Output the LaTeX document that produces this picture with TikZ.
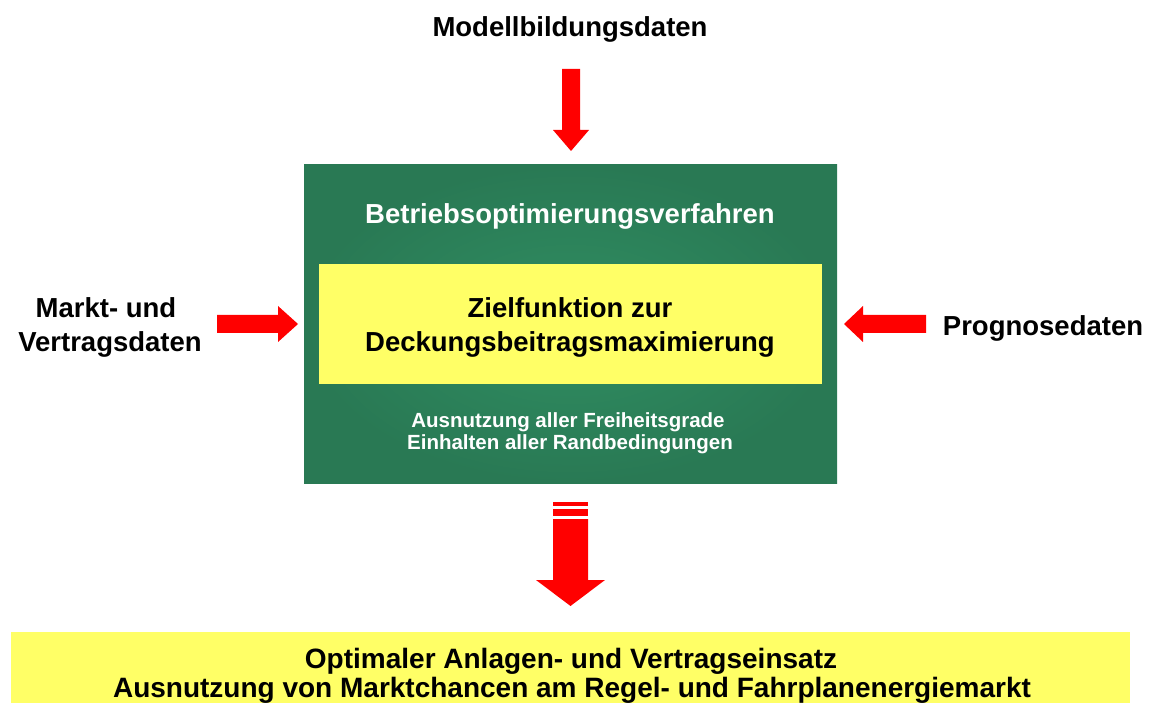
\documentclass[tikz,border=0pt]{standalone}
\usepackage{fontspec}
\setmainfont{Liberation Sans}
\definecolor{boxgreen}{RGB}{41,121,84}
\definecolor{boxglow}{RGB}{48,142,98}
\definecolor{paleyellow}{RGB}{255,255,102}
\definecolor{arrowred}{RGB}{255,0,0}
\tikzset{
  big/.style={font=\bfseries\fontsize{27.5}{34}\selectfont},
  bigger/.style={font=\bfseries\fontsize{28}{34}\selectfont},
  small/.style={font=\bfseries\fontsize{20.5}{24}\selectfont},
  label/.style={big, text=black, anchor=base, inner sep=0pt},
  whitetext/.style={text=white, anchor=base, inner sep=0pt},
  blockarrow/.style={fill=arrowred, draw=none},
}
\begin{document}
\begin{tikzpicture}[x=1pt, y=-1pt]
  \useasboundingbox (0,0) rectangle (1149,703);

  % central process box with soft glow
  \fill[boxgreen] (304,165) rectangle (837,483);
  \shade[inner color=boxglow, outer color=boxgreen] (304,165) rectangle (837,483);
  \node[big, whitetext] (title) at (570,224) {Betriebsoptimierungsverfahren};

  % objective function box
  \fill[paleyellow] (319,264) rectangle (822,384);
  \node[label] (goal1) at (570,318) {Zielfunktion zur};
  \node[label] (goal2) at (570,352) {Deckungsbeitragsmaximierung};

  \node[small, whitetext] (note1) at (568,427) {Ausnutzung aller Freiheitsgrade};
  \node[small, whitetext] (note2) at (570,449) {Einhalten aller Randbedingungen};

  % inputs
  \node[label] (model) at (570,37) {Modellbildungsdaten};
  \node[label] (markt1) at (106,318) {Markt- und};
  \node[label] (markt2) at (110,352) {Vertragsdaten};
  \node[label] (prog) at (1043,336) {Prognosedaten};

  % output box
  \fill[paleyellow] (11,632) rectangle (1130,703);
  \node[label, bigger] (out1) at (571,668) {Optimaler Anlagen- und Vertragseinsatz};
  \node[label, bigger] (out2) at (572,697) {Ausnutzung von Marktchancen am Regel- und Fahrplanenergiemarkt};

  % input arrows
  \fill[blockarrow] (562,69) -- (580,69) -- (580,130) -- (589,130) -- (571,151)
    -- (553,130) -- (562,130) -- cycle;
  \fill[blockarrow] (217,315) -- (278,315) -- (278,306) -- (298,324) -- (278,342)
    -- (278,333) -- (217,333) -- cycle;
  \fill[blockarrow] (926,315) -- (863,315) -- (863,306) -- (844,324) -- (863,342)
    -- (863,333) -- (926,333) -- cycle;

  % output arrow with striped tail
  \fill[blockarrow] (553,502) rectangle (588,506);
  \fill[blockarrow] (553,509) rectangle (588,516);
  \fill[blockarrow] (553,519) -- (588,519) -- (588,580) -- (605,580) -- (570.5,606)
    -- (536,580) -- (553,580) -- cycle;
\end{tikzpicture}
\end{document}
